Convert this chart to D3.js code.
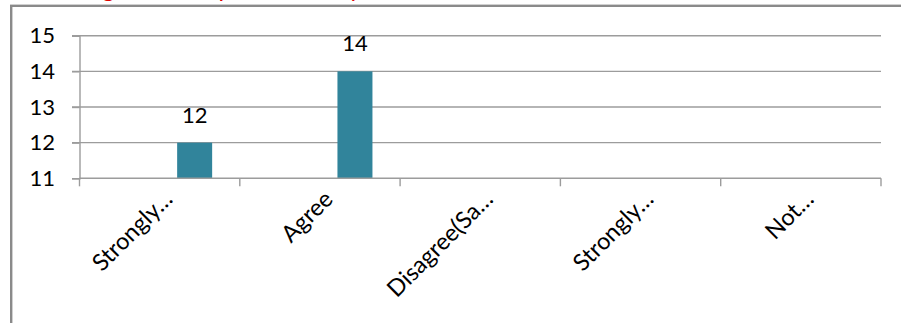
<!DOCTYPE html>
<html>
<head>
<meta charset="utf-8">
<script src="https://cdn.jsdelivr.net/npm/d3@7/dist/d3.min.js"></script>
<style>
  html, body { margin: 0; padding: 0; background: #fff; }
  svg { display: block; }
  text { font-family: Lato, "Open Sans", sans-serif; fill: #000; }
</style>
</head>
<body>
<svg id="chart" width="901" height="323"></svg>
<script>
// Survey responses per answer option
const titleText = "Figure 3: Response rate by level";
const categories = ["Strongly…", "Agree", "Disagree(Sa…", "Strongly…", "Not…"];
const values = [12, 14, null, null, null];
const yTicks = [11, 12, 13, 14, 15];

const W = 901, H = 323;
const plot = { left: 79.5, right: 881, top: 35.7, bottom: 178.3 };
const gridColor = "#9c9c9c";
const barColor = "#31849b";

const svg = d3.select("#chart");

// outer chart frame (runs past the visible edges)
svg.append("rect")
  .attr("x", 11.2).attr("y", 5.8)
  .attr("width", W + 40).attr("height", H + 40)
  .attr("fill", "none").attr("stroke", "#8a8a8a").attr("stroke-width", 2.4);

// title, sitting above the frame
svg.append("text")
  .attr("x", 83).attr("y", -3.2)
  .attr("font-size", 24)
  .style("fill", "#e00000")
  .text(titleText);

const x = d3.scaleBand()
  .domain(d3.range(categories.length))
  .range([plot.left, plot.right])
  .paddingInner(0).paddingOuter(0);

// three series slots per category; the plotted series occupies the last one
const slot = d3.scaleBand()
  .domain([0, 1, 2])
  .range([0, x.bandwidth()])
  .paddingInner(0).paddingOuter(0.79);
const seriesSlot = 2;

const y = d3.scaleLinear()
  .domain([d3.min(yTicks), d3.max(yTicks)])
  .range([plot.bottom, plot.top]);

// horizontal gridlines with small outer ticks
svg.append("g")
  .selectAll("line")
  .data(yTicks.filter(v => v !== d3.min(yTicks)))
  .join("line")
  .attr("x1", plot.left - 7.5).attr("x2", plot.right)
  .attr("y1", d => y(d)).attr("y2", d => y(d))
  .attr("stroke", gridColor).attr("stroke-width", 1.4);

// y axis
const yAxis = svg.append("g")
  .attr("transform", `translate(${plot.left},0)`)
  .call(d3.axisLeft(y).tickValues(yTicks).tickSize(7.5).tickPadding(17).tickFormat(d3.format("d")));
yAxis.select(".domain").attr("stroke", gridColor).attr("stroke-width", 1.4);
yAxis.selectAll(".tick line").attr("stroke", gridColor).attr("stroke-width", 1.4);
yAxis.selectAll(".tick text")
  .attr("font-size", 22)
  .attr("font-family", "Lato, 'Open Sans', sans-serif")
  .attr("fill", "#000");

// bars
const data = categories.map((c, i) => ({ i, c, v: values[i] })).filter(d => d.v != null);

svg.append("g")
  .selectAll("rect")
  .data(data)
  .join("rect")
  .attr("x", d => x(d.i) + slot(seriesSlot))
  .attr("width", slot.bandwidth())
  .attr("y", d => y(d.v))
  .attr("height", d => y(d3.min(yTicks)) - y(d.v))
  .attr("fill", barColor);

// value labels
svg.append("g")
  .selectAll("text")
  .data(data)
  .join("text")
  .attr("x", d => x(d.i) + slot(seriesSlot) + slot.bandwidth() / 2)
  .attr("y", d => y(d.v) - 20)
  .attr("text-anchor", "middle")
  .attr("font-size", 22)
  .text(d => d.v);

// x axis line and boundary ticks
svg.append("line")
  .attr("x1", plot.left).attr("x2", plot.right)
  .attr("y1", plot.bottom).attr("y2", plot.bottom)
  .attr("stroke", gridColor).attr("stroke-width", 1.4);

const bounds = d3.range(categories.length).map(i => x(i)).concat([x(categories.length - 1) + x.bandwidth()]);
svg.append("g")
  .selectAll("line")
  .data(bounds)
  .join("line")
  .attr("x1", d => d).attr("x2", d => d)
  .attr("y1", plot.bottom).attr("y2", plot.bottom + 8)
  .attr("stroke", gridColor).attr("stroke-width", 1.4);

// rotated category labels
svg.append("g")
  .selectAll("text")
  .data(categories)
  .join("text")
  .attr("transform", (d, i) => `translate(${x(i) + x.bandwidth() / 2 + 1},${plot.bottom + 9}) rotate(-45)`)
  .attr("text-anchor", "end")
  .attr("dy", "0.8em")
  .attr("font-size", 23.5)
  .text(d => d);
</script>
</body>
</html>
